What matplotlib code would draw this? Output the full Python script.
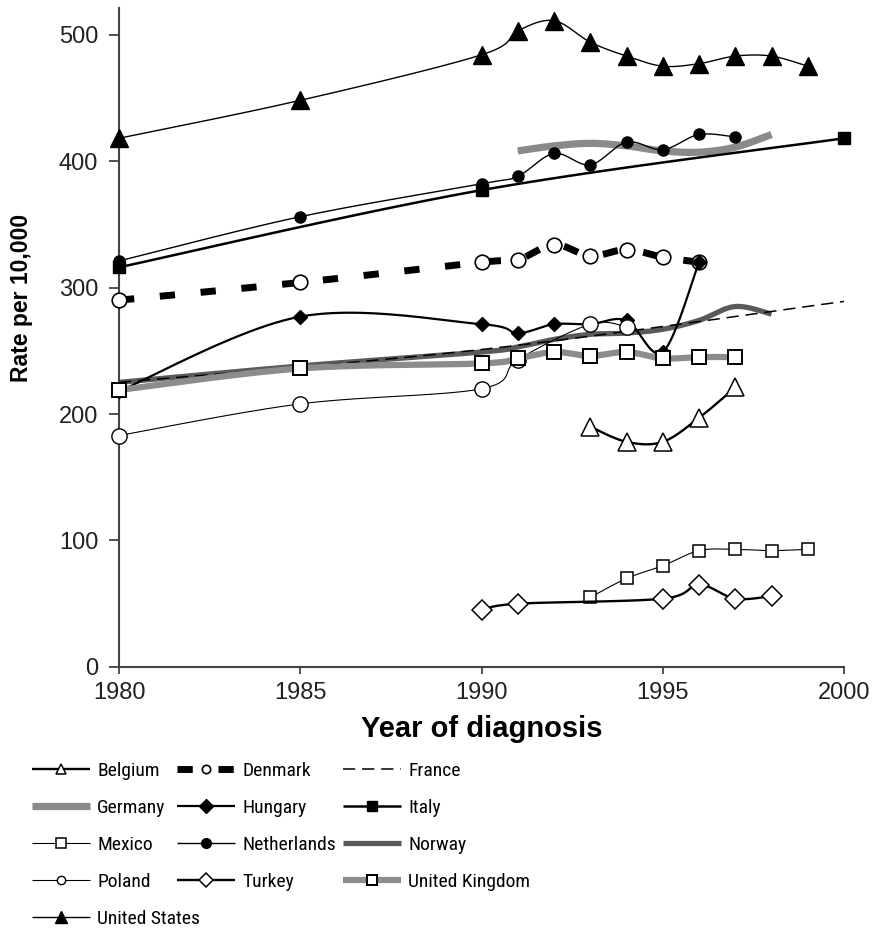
import numpy as np
import matplotlib.pyplot as plt
from matplotlib.lines import Line2D

plt.rcParams['font.family'] = ['Liberation Sans', 'DejaVu Sans']

# incidence rates per 10,000 by year of diagnosis
us_years = [1980, 1985, 1990, 1991, 1992, 1993, 1994, 1995, 1996, 1997, 1998, 1999]
us_rate = [418, 448, 484, 503, 511, 494, 483, 475, 477, 483, 483, 475]

italy_years = [1980, 1990, 2000]
italy_rate = [316, 377, 418]

netherlands_years = [1980, 1985, 1990, 1991, 1992, 1993, 1994, 1995, 1996, 1997]
netherlands_rate = [321, 356, 382, 388, 406, 397, 415, 409, 421, 419]

germany_years = [1991, 1992, 1993, 1994, 1995, 1996, 1997, 1998]
germany_rate = [408, 412, 414, 412, 408, 407, 411, 421]

denmark_years = [1980, 1985, 1990, 1991, 1992, 1993, 1994, 1995, 1996]
denmark_rate = [290, 304, 320, 322, 334, 325, 330, 324, 320]

hungary_years = [1980, 1985, 1990, 1991, 1992, 1993, 1994, 1995, 1996]
hungary_rate = [218, 277, 271, 264, 271, 271, 274, 249, 320]

france_years = [1980, 1990, 2000]
france_rate = [225, 251, 289]

norway_years = [1980, 1985, 1990, 1991, 1992, 1993, 1994, 1995, 1996, 1997, 1998]
norway_rate = [225, 238, 249, 253, 259, 263, 264, 267, 274, 285, 279]

uk_years = [1980, 1985, 1990, 1991, 1992, 1993, 1994, 1995, 1996, 1997]
uk_rate = [219, 236, 240, 244, 249, 246, 249, 244, 245, 245]

poland_years = [1980, 1985, 1990, 1991, 1993, 1994]
poland_rate = [183, 208, 220, 243, 271, 269]

belgium_years = [1993, 1994, 1995, 1996, 1997]
belgium_rate = [190, 178, 178, 197, 221]

mexico_years = [1993, 1994, 1995, 1996, 1997, 1998, 1999]
mexico_rate = [55, 70, 80, 92, 93, 92, 93]

turkey_years = [1990, 1991, 1995, 1996, 1997, 1998]
turkey_rate = [45, 50, 54, 65, 54, 56]


def smooth(xs, ys, steps=24):
    """Bezier smoothing through every point (tangent = neighbour chord / 6)."""
    pts = np.column_stack([xs, ys]).astype(float)
    padded = np.vstack([pts[0], pts, pts[-1]])
    t = np.linspace(0, 1, steps)[:, None]
    out = [pts[:1]]
    for i in range(len(pts) - 1):
        p0, p1, p2, p3 = padded[i:i + 4]
        c1 = p1 + (p2 - p0) / 6
        c2 = p2 - (p3 - p1) / 6
        seg = ((1 - t) ** 3) * p1 + 3 * ((1 - t) ** 2) * t * c1 \
            + 3 * (1 - t) * t ** 2 * c2 + t ** 3 * p2
        out.append(seg[1:])
    curve = np.vstack(out)
    return curve[:, 0], curve[:, 1]


open_mk = dict(mfc='white', mec='black')
filled_mk = dict(mfc='black', mec='black')

# name, years, rates, line style, marker style (plot), marker size in legend
series = [
    ('Norway', norway_years, norway_rate,
     dict(color='#5a5a5a', lw=3.8), None, 0),
    ('France', france_years, france_rate,
     dict(color='black', lw=1.1, dashes=(8, 4.5)), None, 0),
    ('Germany', germany_years, germany_rate,
     dict(color='#8a8a8a', lw=5.2), None, 0),
    ('Denmark', denmark_years, denmark_rate,
     dict(color='black', lw=5, dashes=(2.2, 3.7)), dict(marker='o', ms=10.5, mew=1.2, **open_mk), 6),
    ('Hungary', hungary_years, hungary_rate,
     dict(color='black', lw=1.6), dict(marker='D', ms=7, mew=1.0, **filled_mk), 7),
    ('Poland', poland_years, poland_rate,
     dict(color='black', lw=0.8), dict(marker='o', ms=11, mew=1.0, **open_mk), 6),
    ('United Kingdom', uk_years, uk_rate,
     dict(color='#8c8c8c', lw=4.5), dict(marker='s', ms=10, mew=1.4, **open_mk), 7),
    ('Italy', italy_years, italy_rate,
     dict(color='black', lw=1.8), dict(marker='s', ms=8.5, mew=1.0, **filled_mk), 7),
    ('Netherlands', netherlands_years, netherlands_rate,
     dict(color='black', lw=1.0), dict(marker='o', ms=8, mew=1.0, **filled_mk), 7),
    ('United States', us_years, us_rate,
     dict(color='black', lw=1.0), dict(marker='^', ms=12.5, mew=1.0, **filled_mk), 8),
    ('Belgium', belgium_years, belgium_rate,
     dict(color='black', lw=1.7), dict(marker='^', ms=12.5, mew=1.1, **open_mk), 7),
    ('Mexico', mexico_years, mexico_rate,
     dict(color='black', lw=0.8), dict(marker='s', ms=9, mew=1.1, **open_mk), 7),
    ('Turkey', turkey_years, turkey_rate,
     dict(color='black', lw=1.7), dict(marker='D', ms=10, mew=1.1, **open_mk), 7),
]

fig = plt.figure(figsize=(8.77, 9.31), dpi=100)
ax = fig.add_axes([0.1357, 0.2836, 0.8267, 0.7078])

handles = {}
for z, (name, years, rate, line_kw, mark_kw, leg_ms) in enumerate(series):
    sx, sy = smooth(years, rate)
    ax.plot(sx, sy, solid_capstyle='butt', dash_capstyle='butt', zorder=2 + z, **line_kw)
    if mark_kw:
        ax.plot(years, rate, ls='none', clip_on=False, zorder=2 + z, **mark_kw)
        leg_mark = dict(mark_kw, ms=leg_ms)
    else:
        leg_mark = {}
    handles[name] = Line2D([], [], solid_capstyle='butt', dash_capstyle='butt',
                           **line_kw, **leg_mark)

ax.set_xlim(1980, 2000)
ax.set_ylim(0, 521)
ax.set_xticks(range(1980, 2001, 5))
ax.set_yticks(range(0, 501, 100))
for side in ('top', 'right'):
    ax.spines[side].set_visible(False)
for side in ('left', 'bottom'):
    ax.spines[side].set_color('#444444')
    ax.spines[side].set_linewidth(1.5)
ax.tick_params(axis='y', direction='out', length=7, width=1.3, pad=8,
               labelsize=17, color='#444444', labelcolor='#222222')
ax.tick_params(axis='x', direction='out', length=5, width=1.3, pad=6,
               labelsize=17, color='#444444', labelcolor='#222222')

ax.set_xlabel('Year of diagnosis', fontsize=21, fontweight='bold', labelpad=8)
ax.set_ylabel('Rate per 10,000', fontsize=16.5, fontweight='bold')
ax.yaxis.set_label_coords(-0.119, 0.56)

# three legend columns laid out under the axes
legend_font = dict(family=['Liberation Sans Narrow', 'Roboto Condensed', 'Liberation Sans'],
                   size=14)
columns = [
    (0.0365, ['Belgium', 'Germany', 'Mexico', 'Poland', 'United States']),
    (0.2018, ['Denmark', 'Hungary', 'Netherlands', 'Turkey']),
    (0.391, ['France', 'Italy', 'Norway', 'United Kingdom']),
]
for x0, names in columns:
    fig.legend([handles[n] for n in names], names, loc='upper left',
               bbox_to_anchor=(x0, 0.1815), frameon=False, borderpad=0,
               borderaxespad=0, handlelength=3.0, handletextpad=0.35,
               labelspacing=0.98, numpoints=1, prop=legend_font)

fig.savefig('out.png', dpi=100)
